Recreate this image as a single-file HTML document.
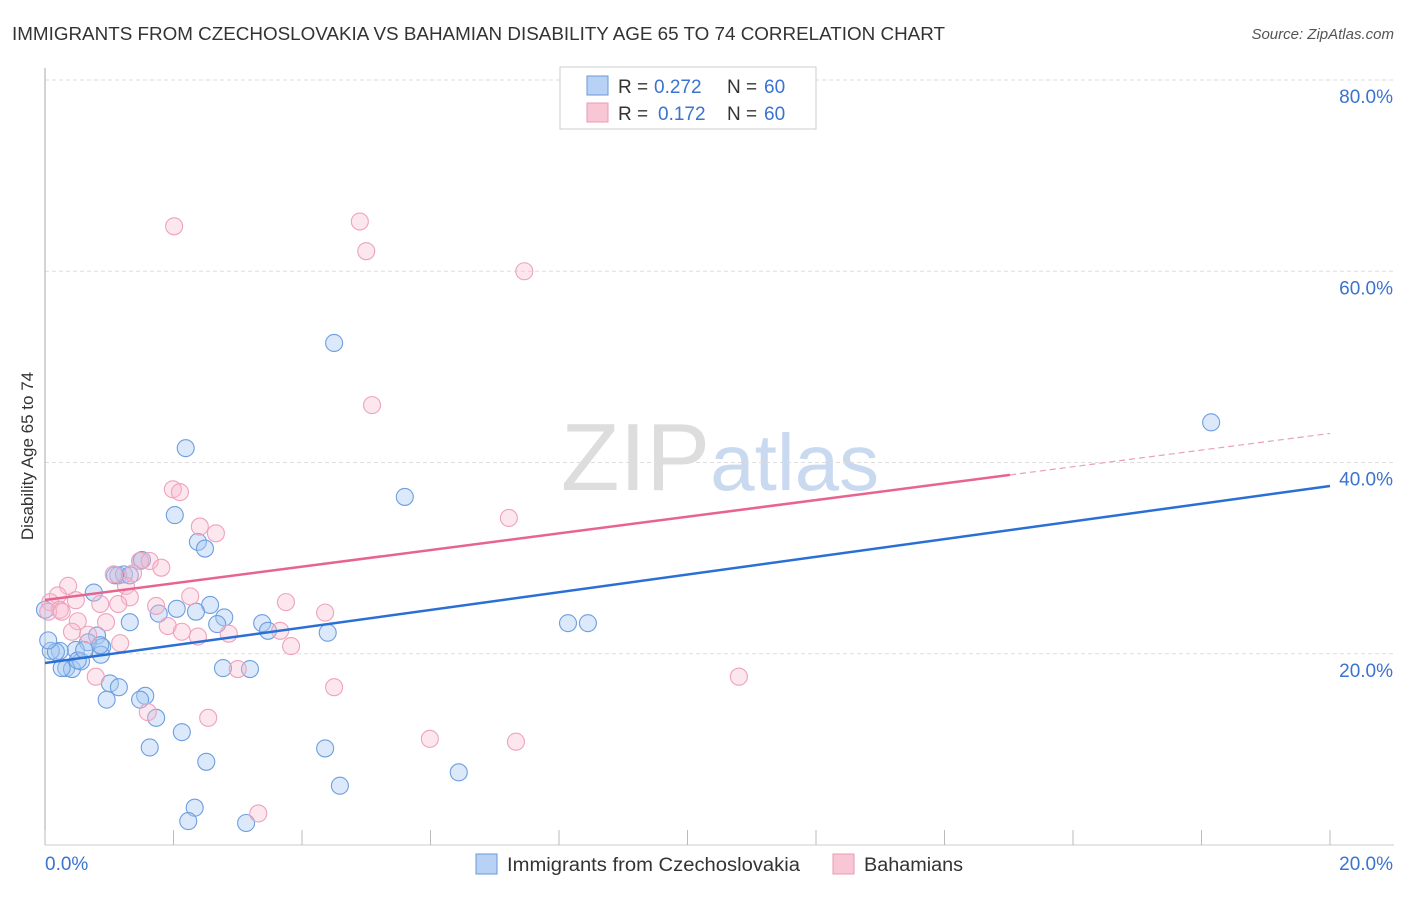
<!DOCTYPE html>
<html><head><meta charset="utf-8"><style>
body{margin:0;background:#fff;font-family:"Liberation Sans",sans-serif}
svg text{font-family:"Liberation Sans",sans-serif}
</style></head><body>
<svg id="chart" width="1406" height="892" xmlns="http://www.w3.org/2000/svg">
<text x="12" y="40" font-size="18" fill="#333" textLength="933" lengthAdjust="spacingAndGlyphs">IMMIGRANTS FROM CZECHOSLOVAKIA VS BAHAMIAN DISABILITY AGE 65 TO 74 CORRELATION CHART</text>
<text x="1394" y="39" font-size="15" fill="#555" text-anchor="end" font-style="italic">Source: ZipAtlas.com</text>
<text x="720" y="490" font-size="96" text-anchor="middle" fill="#ddd" font-family="Liberation Serif">ZIP<tspan fill="#c9d9ef" font-family="Liberation Sans" font-size="80">atlas</tspan></text>
<g id="grid"></g>
<g id="axes"></g>
<g id="marks"></g>
<g id="trend"></g>
<text transform="translate(33,456) rotate(-90)" font-size="17" fill="#333" text-anchor="middle">Disability Age 65 to 74</text>
<g>
<rect x="560" y="67" width="256" height="62" fill="#fff" stroke="#ccc"/>
<rect x="587" y="76" width="21" height="19" fill="#b8d2f5" stroke="#6a9ad8"/>
<rect x="587" y="103" width="21" height="19" fill="#f9c6d6" stroke="#e89ab4"/>
<text x="618" y="93" font-size="19" fill="#333">R =</text>
<text x="654" y="93" font-size="19" fill="#3b73d0">0.272</text>
<text x="727" y="93" font-size="19" fill="#333">N =</text>
<text x="764" y="93" font-size="19" fill="#3b73d0">60</text>
<text x="618" y="120" font-size="19" fill="#333">R =</text>
<text x="658" y="120" font-size="19" fill="#3b73d0">0.172</text>
<text x="727" y="120" font-size="19" fill="#333">N =</text>
<text x="764" y="120" font-size="19" fill="#3b73d0">60</text>
</g>
<g>
<rect x="476" y="854" width="21" height="20" fill="#b8d2f5" stroke="#6a9ad8"/>
<text x="507" y="871" font-size="19" fill="#333" textLength="293" lengthAdjust="spacingAndGlyphs">Immigrants from Czechoslovakia</text>
<rect x="833" y="854" width="21" height="20" fill="#f9c6d6" stroke="#e89ab4"/>
<text x="864" y="871" font-size="19" fill="#333" textLength="99" lengthAdjust="spacingAndGlyphs">Bahamians</text>
</g>
</svg>
<script>
const blueX=[4.50,18.15,2.19,5.60,2.02,2.38,2.49,1.48,1.14,1.23,0.76,2.57,2.05,2.35,2.79,1.77,2.68,3.38,3.47,4.40,8.14,8.45,1.32,0.81,0.67,0.89,0.87,0.48,0.23,0.09,0.17,0.33,0.42,0.56,0.51,1.01,1.15,1.56,1.48,0.96,1.73,2.77,3.19,1.63,2.13,2.51,4.36,6.44,4.59,2.33,2.23,3.13,0.05,0.0,1.32,0.26,0.86,0.61,1.09,1.51];
const blueY=[52.5,44.2,41.5,36.4,34.5,31.7,31.0,29.7,28.2,28.3,26.4,25.1,24.7,24.4,23.8,24.2,23.1,23.2,22.4,22.2,23.2,23.2,23.3,21.9,21.2,20.7,19.9,20.4,20.3,20.3,20.2,18.5,18.4,19.2,19.3,16.9,16.5,15.6,15.2,15.2,13.3,18.5,18.4,10.2,11.8,8.7,10.1,7.6,6.2,3.9,2.5,2.3,21.4,24.6,28.2,18.5,20.9,20.4,28.2,29.8];
const pinkX=[2.01,4.90,5.00,7.46,5.09,1.99,2.10,7.22,2.41,2.66,1.48,1.63,1.81,1.07,1.37,0.36,1.26,0.20,0.48,2.26,1.32,0.86,1.14,1.73,3.75,4.36,0.08,0.23,0.05,0.51,0.95,1.91,2.13,2.38,2.86,3.66,3.83,0.42,0.67,1.17,3.00,4.50,10.80,0.79,1.60,2.54,5.99,7.33,3.32,0.26];
const pinkY=[64.7,65.2,62.1,60.0,46.0,37.2,36.9,34.2,33.3,32.6,29.7,29.7,29.0,28.3,28.4,27.1,27.1,26.1,25.6,26.0,25.9,25.2,25.2,25.0,25.4,24.3,25.4,24.6,24.4,23.4,23.3,22.9,22.3,21.8,22.1,22.4,20.8,22.3,22.0,21.1,18.4,16.5,17.6,17.6,13.9,13.3,11.1,10.8,3.3,24.4];
const yTicks=[20,40,60,80];
const yTickLabels=["20.0%","40.0%","60.0%","80.0%"];
const xTicks=[0,2,4,6,8,10,12,14,16,18,20];
const blueTrend=[19.03,37.54];
const pinkTrend=[25.62,43.04];
const pinkSolidEnd=15.02;

const X=v=>45+v*64.25, Y=v=>845-v*9.5625;
const NS="http://www.w3.org/2000/svg";
function mk(tag,attrs,parent){const e=document.createElementNS(NS,tag);for(const k in attrs)e.setAttribute(k,attrs[k]);parent.appendChild(e);return e;}
const grid=document.getElementById('grid'),axes=document.getElementById('axes'),marks=document.getElementById('marks'),trend=document.getElementById('trend');
yTicks.forEach((t,i)=>{
  const l=mk('line',{x1:45,x2:1394,y1:Y(t),y2:Y(t),stroke:'#ddd','stroke-dasharray':'4,3'},grid);
  
  
  const tx=mk('text',{x:1393,y:Y(t)+23,'font-size':19,fill:'#3b73d0','text-anchor':'end'},axes);
  tx.textContent=yTickLabels[i];
  
  
});
const ya=mk('line',{x1:45,x2:45,y1:68,y2:845,stroke:'#aaa'},axes);


const xa=mk('line',{x1:45,x2:1394,y1:845,y2:845,stroke:'#ccc'},axes);


xTicks.forEach(t=>{
  const l=mk('line',{x1:X(t),x2:X(t),y1:830,y2:845,stroke:'#bbb'},axes);
  
  
});
const x0=mk('text',{x:45,y:870,'font-size':19,fill:'#3b73d0'},axes);x0.textContent='0.0%';


const x1=mk('text',{x:1393,y:870,'font-size':19,fill:'#3b73d0','text-anchor':'end'},axes);x1.textContent='20.0%';


blueX.forEach((v,i)=>{
  const c=mk('circle',{cx:X(v),cy:Y(blueY[i]),r:8.5,fill:'rgba(165,200,242,0.4)',stroke:'#6e9ee0','stroke-width':1.1},marks);
  
  
});
pinkX.forEach((v,i)=>{
  const c=mk('circle',{cx:X(v),cy:Y(pinkY[i]),r:8.5,fill:'rgba(248,185,205,0.35)',stroke:'#eea2bb','stroke-width':1.1},marks);
  
  
});
const bt=mk('line',{x1:X(0),y1:Y(blueTrend[0]),x2:X(20),y2:Y(blueTrend[1]),stroke:'#2a6fd6','stroke-width':2.5},trend);


const pm=pinkTrend[0]+(pinkTrend[1]-pinkTrend[0])*pinkSolidEnd/20;
const pt=mk('line',{x1:X(0),y1:Y(pinkTrend[0]),x2:X(pinkSolidEnd),y2:Y(pm),stroke:'#e8648f','stroke-width':2.5},trend);


const pd=mk('line',{x1:X(pinkSolidEnd),y1:Y(pm),x2:X(20),y2:Y(pinkTrend[1]),stroke:'#e8a0b8','stroke-width':1.2,'stroke-dasharray':'6,4'},trend);


</script>
</body></html>
